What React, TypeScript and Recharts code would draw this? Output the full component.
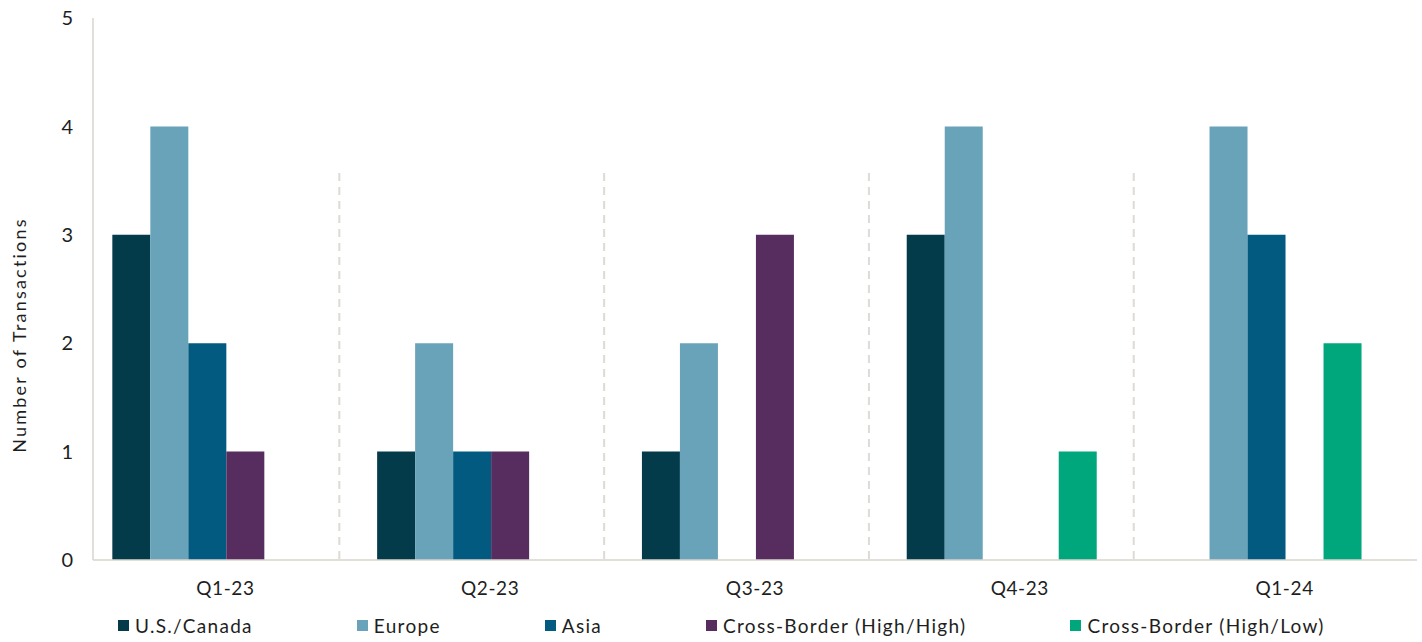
import React from 'react';
import { BarChart, Bar, XAxis, YAxis, Legend } from 'recharts';

const quarters = ['Q1-23', 'Q2-23', 'Q3-23', 'Q4-23', 'Q1-24'];
const usCanada = [3, 1, 1, 3, 0];
const europe = [4, 2, 2, 4, 4];
const asia = [2, 1, 0, 0, 3];
const crossHighHigh = [1, 1, 3, 0, 0];
const crossHighLow = [0, 0, 0, 1, 2];
// height of the dashed dividers drawn after each quarter (none after the last)
const dividerHeight = [3.57, 3.57, 3.57, 3.57, 0];
const yTicks = [0, 1, 2, 3, 4, 5];

const series = [
  { key: 'us', name: 'U.S./Canada', color: '#033B4A' },
  { key: 'europe', name: 'Europe', color: '#68A3B9' },
  { key: 'asia', name: 'Asia', color: '#035A80' },
  { key: 'hh', name: 'Cross-Border (High/High)', color: '#572C5F' },
  { key: 'hl', name: 'Cross-Border (High/Low)', color: '#00A77D' },
];

const data = quarters.map((q, i) => ({
  quarter: q,
  us: usCanada[i],
  europe: europe[i],
  asia: asia[i],
  hh: crossHighHigh[i],
  hl: crossHighLow[i],
  divider: dividerHeight[i],
}));

const FONT = 'Lato, "Noto Sans", sans-serif';
const TEXT = '#1E1E1E';
const AXIS = '#D9D4CE';

const DividerShape = (props: any) => {
  const { x, y, width, height } = props;
  if (!height) return null;
  const lx = x + width - 1;
  return (
    <line x1={lx} x2={lx} y1={y} y2={y + height} stroke="#DEDAD5" strokeWidth={2} strokeDasharray="8 6" />
  );
};

const YLabel = (props: any) => {
  const { viewBox } = props;
  const cx = viewBox.x + 19;
  const cy = viewBox.y + viewBox.height / 2 + 46;
  return (
    <text
      x={cx}
      y={cy}
      transform={`rotate(-90, ${cx}, ${cy})`}
      textAnchor="middle"
      dominantBaseline="central"
      fontFamily={FONT}
      fontSize={18}
      letterSpacing={2.2}
      fill={TEXT}
    >
      Number of Transactions
    </text>
  );
};

const renderLegend = () => (
  <div style={{ display: 'flex', paddingLeft: 118, gap: 104, fontFamily: FONT, fontSize: 19, letterSpacing: 1.3, color: TEXT }}>
    {series.map(s => (
      <div key={s.key} style={{ display: 'flex', alignItems: 'center' }}>
        <span style={{ width: 11, height: 11, background: s.color, marginRight: 6, display: 'inline-block' }} />
        <span>{s.name}</span>
      </div>
    ))}
  </div>
);

const App: React.FC = () => {
  return (
    <div style={{ position: 'absolute', left: 0, top: 0, width: 1422, height: 642, background: '#fff' }}>
      <BarChart
        width={1422}
        height={642}
        data={data}
        margin={{ top: 18, right: 5, left: 0, bottom: 42 }}
        barGap={0}
        barCategoryGap="7.3%"
      >
        <XAxis
          dataKey="quarter"
          height={40}
          tickLine={false}
          axisLine={{ stroke: AXIS, strokeWidth: 1.5 }}
          tick={{ fontFamily: FONT, fontSize: 19, fill: TEXT, letterSpacing: 0.6 }}
          tickMargin={16}
        />
        <YAxis
          width={93}
          domain={[0, 5]}
          ticks={yTicks}
          tickLine={false}
          axisLine={{ stroke: AXIS, strokeWidth: 1.5 }}
          tick={{ fontFamily: FONT, fontSize: 20, fill: TEXT }}
          tickMargin={14}
          label={<YLabel />}
        />
        <Legend
          verticalAlign="middle"
          align="center"
          layout="horizontal"
          content={renderLegend}
          wrapperStyle={{ top: 614, left: 0, width: 1422 }}
        />
        {series.map(s => (
          <Bar key={s.key} dataKey={s.key} name={s.name} fill={s.color} isAnimationActive={false} />
        ))}
        <Bar dataKey="divider" legendType="none" fill="none" shape={DividerShape} isAnimationActive={false} />
      </BarChart>
    </div>
  );
};

export default App;
